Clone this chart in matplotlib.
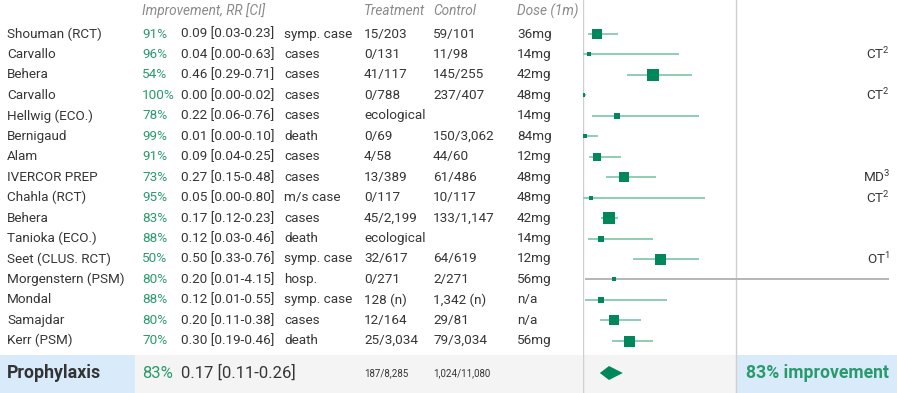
import numpy as np
import matplotlib.pyplot as plt

plt.rcParams['font.family'] = ['Roboto', 'DejaVu Sans']
plt.rcParams['mathtext.default'] = 'regular'

studies = ['Shouman (RCT)', 'Carvallo', 'Behera', 'Carvallo', 'Hellwig (ECO.)',
           'Bernigaud', 'Alam', 'IVERCOR PREP', 'Chahla (RCT)', 'Behera',
           'Tanioka (ECO.)', 'Seet (CLUS. RCT)', 'Morgenstern (PSM)', 'Mondal',
           'Samajdar', 'Kerr (PSM)']
rr = [0.09, 0.04, 0.46, 0.00, 0.22, 0.01, 0.09, 0.27, 0.05, 0.17, 0.12, 0.50,
      0.20, 0.12, 0.20, 0.30]
ci_lo = [0.03, 0.00, 0.29, 0.00, 0.06, 0.00, 0.04, 0.15, 0.00, 0.12, 0.03, 0.33,
         0.01, 0.01, 0.11, 0.19]
ci_hi = [0.23, 0.63, 0.71, 0.02, 0.76, 0.10, 0.25, 0.48, 0.80, 0.23, 0.46, 0.76,
         4.15, 0.55, 0.38, 0.46]
outcome = ['symp. case', 'cases', 'cases', 'cases', 'cases', 'death', 'cases',
           'cases', 'm/s case', 'cases', 'death', 'symp. case', 'hosp.',
           'symp. case', 'cases', 'death']
treatment = ['15/203', '0/131', '41/117', '0/788', 'ecological', '0/69', '4/58',
             '13/389', '0/117', '45/2,199', 'ecological', '32/617', '0/271',
             '128 (n)', '12/164', '25/3,034']
control = ['59/101', '11/98', '145/255', '237/407', '', '150/3,062', '44/60',
           '61/486', '10/117', '133/1,147', '', '64/619', '2/271', '1,342 (n)',
           '29/81', '79/3,034']
dose = ['36mg', '14mg', '42mg', '48mg', '14mg', '84mg', '12mg', '48mg', '48mg',
        '42mg', '14mg', '12mg', '56mg', 'n/a', 'n/a', '56mg']
notes = ['', 'CT$^2$', '', 'CT$^2$', '', '', '', 'MD$^3$', 'CT$^2$', '', '',
         'OT$^1$', '', '', '', '']
# relative study weight (square size)
weight = [10.5, 4, 12, 4, 6.3, 3.5, 7.5, 10, 3.5, 11.5, 5.8, 11, 3.3, 5.7, 9.3, 11]

summary_rr, summary_lo, summary_hi = 0.17, 0.11, 0.26
summary_treat = '187/8,285'
summary_ctrl = '1,024/11,080'

W, H = 897, 393
row0, step = 34, 20.45
n = len(studies)

fig = plt.figure(figsize=(W / 100, H / 100), dpi=100)
fig.patch.set_facecolor('white')

# text axes: x in pixels, y in row units
ax = fig.add_axes([0, 0, 1, 1])
ax.set_xlim(0, W)
ax.set_ylim((H - row0) / step, -row0 / step)
ax.axis('off')

dark = '#363636'
green_txt = '#2a9a6c'
green = '#00875a'
ci_col = '#8fcdb2'
grid_col = '#cfcfcf'

fs = 9.7
hy = (11 - row0) / step
hdr = dict(fontsize=9.8, color='#8a8a8a', style='italic', va='center')
ax.text(142, hy, 'Improvement, RR [CI]', **hdr)
ax.text(364, hy, 'Treatment', **hdr)
ax.text(433, hy, 'Control', **hdr)
ax.text(517, hy, 'Dose (1m)', **hdr)

for i in range(n):
    pct = round((1 - rr[i]) * 100)
    ax.text(7, i, studies[i], fontsize=fs, color=dark, va='center')
    ax.text(142, i, f'{pct}%', fontsize=fs, color=green_txt, va='center')
    ax.text(181, i, f'{rr[i]:.2f} [{ci_lo[i]:.2f}-{ci_hi[i]:.2f}]', fontsize=fs,
            color=dark, va='center')
    ax.text(284, i, outcome[i], fontsize=fs, color=dark, va='center')
    ax.text(364, i, treatment[i], fontsize=fs, color=dark, va='center')
    ax.text(433, i, control[i], fontsize=fs, color=dark, va='center')
    ax.text(517, i, dose[i], fontsize=fs, color=dark, va='center')
    if notes[i]:
        ax.text(890, i, notes[i], fontsize=fs, color=dark, va='center', ha='right')

# summary row
sy0 = (355 - row0) / step
sy = (373 - row0) / step
ybot = (H - row0) / step
ax.axhspan(sy0, ybot, xmin=135 / W, xmax=736 / W, color='#f4f4f4', lw=0)
ax.axhspan(sy0, ybot, xmin=0, xmax=135 / W, color='#d9ebfa', lw=0)
ax.axhspan(sy0, ybot, xmin=736 / W, xmax=1, color='#d9ebfa', lw=0)
spct = round((1 - summary_rr) * 100)
ax.text(7, sy, 'Prophylaxis', fontsize=12.8, fontweight='bold', color='#333333', va='center')
ax.text(142, sy, f'{spct}%', fontsize=12, color=green_txt, va='center')
ax.text(181, sy, f'{summary_rr:.2f} [{summary_lo:.2f}-{summary_hi:.2f}]',
        fontsize=12, color=dark, va='center')
ax.text(364, sy, summary_treat, fontsize=7, color=dark, va='center')
ax.text(433, sy, summary_ctrl, fontsize=7, color=dark, va='center')
ax.text(889, sy, f'{spct}% improvement', fontsize=12.7, fontweight='bold',
        color=green_txt, va='center', ha='right')

# forest axes: x in RR units
x0, x1 = 583, 889
fx = fig.add_axes([x0 / W, 0, (x1 - x0) / W, 1], sharey=ax)
fx.set_xlim(0, 2)
fx.axis('off')
fx.patch.set_alpha(0)
fx.axvline(0, color=grid_col, lw=1)
fx.axvline(1, color=grid_col, lw=1)

for i in range(n):
    hi = min(ci_hi[i], 2.0)
    col = '#b5b5b5' if ci_hi[i] > 2 else ci_col
    fx.plot([ci_lo[i], hi], [i, i], color=col, lw=1.4, solid_capstyle='butt', zorder=2)
    fx.plot(rr[i], i, marker='s', ms=weight[i] * 0.72, color=green, mew=0, zorder=3)

# summary diamond
dh = 7 / step
fx.fill([summary_lo, summary_rr, summary_hi, summary_rr],
        [sy, sy - dh, sy, sy + dh], color=green, lw=0, zorder=3)

fig.savefig('out.png', dpi=100)
